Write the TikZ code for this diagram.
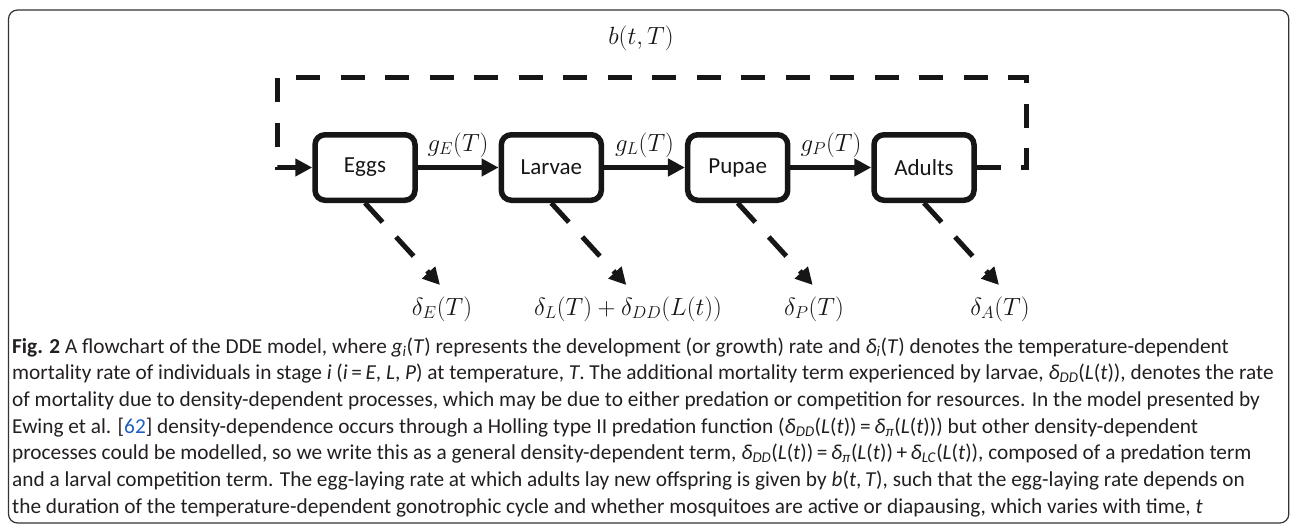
\documentclass[tikz,border=0pt]{standalone}
\usepackage{fontspec}
\setmainfont{Carlito}
\usetikzlibrary{arrows.meta,calc}
\definecolor{ink}{HTML}{161616}
\definecolor{captxt}{HTML}{231F20}
\definecolor{reflink}{HTML}{1F5FBF}
\newcommand\myit[1]{\textit{#1}}
\newcommand\dDD{\myit{δ}\textsubscript{\myit{DD}}(\myit{L}(\myit{t}))}
\newcommand\dPI{\myit{δ}\textsubscript{\myit{π}}(\myit{L}(\myit{t}))}
\newcommand\dLC{\myit{δ}\textsubscript{\myit{LC}}(\myit{L}(\myit{t}))}
\begin{document}
\begin{tikzpicture}[x=1pt,y=-1pt,
  stage/.style={draw=ink, line width=5.5pt, rounded corners=10pt, fill=white,
    minimum width=100pt, minimum height=65.5pt, inner sep=0pt,
    font=\fontsize{23}{27}\selectfont, text=ink},
  flow/.style={draw=ink, line width=5pt, -{Triangle[length=17pt,width=17pt]}},
  fbline/.style={draw=ink, line width=5pt, dash pattern=on 24pt off 20.5pt,
    -{Triangle[length=17pt,width=17pt]}},
  death/.style={draw=ink, line width=5pt, dash pattern=on 26pt off 20pt,
    -{Triangle[length=17pt,width=17pt]}},
  glab/.style={font=\fontsize{25}{30}\selectfont, text=ink, inner sep=0pt},
  dlab/.style={font=\fontsize{24}{28}\selectfont, text=ink, inner sep=0pt},
  capline/.style={anchor=base west, inner sep=0pt, text=captxt,
    font=\fontsize{21.3}{26}\selectfont},
  frame/.style={draw=black!80, line width=1.2pt, rounded corners=9pt}]
\useasboundingbox (0,0) rectangle (1290,525);
\draw[frame] (8.5,10) rectangle (1288.8,523);

% stages
\node[stage] (eggs)   at (365,167.5)   {Eggs};
\node[stage] (larvae) at (551.3,167.5) {Larvae};
\node[stage] (pupae)  at (737.7,167.5) {Pupae};
\node[stage] (adults) at (924,167.5)   {Adults};

% development arrows
\draw[flow] (eggs.east) -- (larvae.west);
\draw[flow] (larvae.east) -- (pupae.west);
\draw[flow] (pupae.east) -- (adults.west);
\node[glab, anchor=base] (gE) at (458,151) {$g_E(T)$};
\node[glab, anchor=base] (gL) at (644.5,151) {$g_L(T)$};
\node[glab, anchor=base] (gP) at (831,151) {$g_P(T)$};

% egg-laying feedback
\coordinate (r1) at (1026,167.5);
\coordinate (r2) at (1026,77);
\coordinate (l2) at (277,77);
\coordinate (l1) at (277,167.5);
\draw[fbline] (adults.east) -- (r1) -- (r2) -- (l2) -- (l1) -- (eggs.west);
\node[glab] (bTT) at (641,38) {$b(t,T)$};

% mortality
\coordinate (tE) at ($(eggs.south)+(75,82)$);
\coordinate (tL) at ($(larvae.south)+(75,82)$);
\coordinate (tP) at ($(pupae.south)+(75,82)$);
\coordinate (tA) at ($(adults.south)+(75,82)$);
\draw[death] (eggs.south) -- (tE);
\draw[death] (larvae.south) -- (tL);
\draw[death] (pupae.south) -- (tP);
\draw[death] (adults.south) -- (tA);
\node[dlab] (dE) at (442,309) {$\delta_E(T)$};
\node[dlab] (dL) at (628,309) {$\delta_L(T)+\delta_{DD}(L(t))$};
\node[dlab] (dP) at (814,309) {$\delta_P(T)$};
\node[dlab] (dA) at (1000,309) {$\delta_A(T)$};

% caption
\node[capline] (c1) at (12,353) {\textbf{Fig. 2} A flowchart of the DDE model, where \myit{g}\textsubscript{\myit{i}}(\myit{T}) represents the development (or growth) rate and \myit{δ}\textsubscript{\myit{i}}(\myit{T}) denotes the temperature-dependent};
\node[capline] (c2) at (12,379.7) {mortality rate of individuals in stage \myit{i} (\myit{i}\,=\,\myit{E}, \myit{L}, \myit{P}) at temperature, \myit{T}. The additional mortality term experienced by larvae, \dDD, denotes the rate};
\node[capline] (c3) at (12,406.3) {of mortality due to density-dependent processes, which may be due to either predation or competition for resources. In the model presented by};
\node[capline] (c4) at (12,433) {Ewing et al. [\textcolor{reflink}{62}] density-dependence occurs through a Holling type II predation function (\dDD\,=\,\dPI) but other density-dependent};
\node[capline] (c5) at (12,459.7) {processes could be modelled, so we write this as a general density-dependent term, \dDD\,=\,\dPI\,+\,\dLC, composed of a predation term};
\node[capline] (c6) at (12,486.3) {and a larval competition term. The egg-laying rate at which adults lay new offspring is given by \myit{b}(\myit{t},\,\myit{T}), such that the egg-laying rate depends on};
\node[capline] (c7) at (12,513) {the duration of the temperature-dependent gonotrophic cycle and whether mosquitoes are active or diapausing, which varies with time, \myit{t}};
\end{tikzpicture}
\end{document}
